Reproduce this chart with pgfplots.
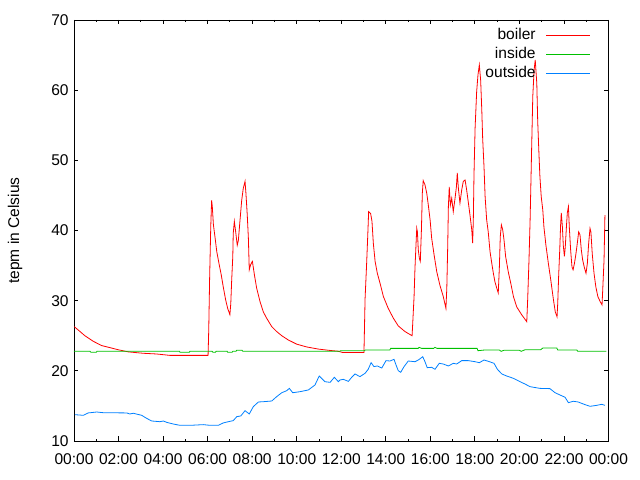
\documentclass[border=0pt]{standalone}
\usepackage{fontspec}
\setmainfont{Liberation Sans}
\usepackage{pgfplots}
\pgfplotsset{compat=1.18}
\usetikzlibrary{calc}
\definecolor{gpRed}{RGB}{255,0,0}
\definecolor{gpGreen}{RGB}{0,192,0}
\definecolor{gpBlue}{RGB}{0,128,255}

\begin{document}
\begin{tikzpicture}
\fontsize{15.6}{18}\selectfont
\begin{axis}[
  name=ax,
  at={(0,0)},anchor=south west,
  scale only axis,
  width=534.5bp,height=421bp,
  xmin=0,xmax=24,ymin=10,ymax=70,
  xtick={0,2,...,24},
  xticklabels={00:00,02:00,04:00,06:00,08:00,10:00,12:00,14:00,16:00,18:00,20:00,22:00,00:00},
  minor x tick num=1,
  ytick={10,20,...,70},
  major tick length=4.5bp,
  minor tick length=2.3bp,
  tick align=inside,
  axis line style={line width=0.8bp},
  every tick/.style={black,line width=0.8bp},
  /pgf/number format/assume math mode=true,
  ticklabel style={font=\fontsize{15.6}{18}\selectfont},
  xticklabel style={yshift=-7bp},
  ylabel={tepm in Celsius},
  ylabel style={at={(axis description cs:-0.1104,0.5)},anchor=center,font=\fontsize{15.6}{18}\selectfont},
  legend plot pos=right,
  legend cell align=right,
  legend image code/.code={\draw[#1] (0bp,0bp) -- (44bp,0bp);},
  legend style={draw=none,fill=none,at={(axis description cs:0.973,0.99)},anchor=north east,
    font=\fontsize{15.6}{18}\selectfont,row sep=0pt,column sep=9bp,
    nodes={inner sep=1.5bp,text height=12bp,text depth=4bp}},
  every axis plot/.append style={line width=0.8bp},
]
\addplot[gpRed] coordinates {
(0.01,26.3) (0.27,25.6) (0.49,25.0) (0.87,24.2) (1.24,23.6) (1.62,23.3) (1.99,23.0)
(2.44,22.7) (3.11,22.5) (3.71,22.4) (4.31,22.2) (6.02,22.2) (6.05,25.8) (6.09,33.2)
(6.14,40.5) (6.18,44.3) (6.21,43.4) (6.26,40.8) (6.33,39.1) (6.41,37.0) (6.51,35.3)
(6.61,33.7) (6.70,32.0) (6.81,30.1) (6.90,28.9) (7.00,28.0) (7.04,29.6) (7.08,32.9)
(7.13,36.3) (7.15,39.6) (7.20,41.3) (7.26,39.8) (7.33,37.9) (7.38,38.6) (7.45,41.3)
(7.53,44.3) (7.60,46.0) (7.68,47.0) (7.72,45.3) (7.78,42.2) (7.83,38.9) (7.87,34.4)
(7.93,35.1) (8.01,35.6) (8.10,33.7) (8.20,31.8) (8.35,29.9) (8.50,28.4) (8.65,27.5)
(8.88,26.3) (9.10,25.6) (9.33,25.0) (9.62,24.4) (10.00,23.8) (10.45,23.4) (10.97,23.1)
(11.50,22.9) (11.85,22.8) (12.08,22.6) (13.02,22.6) (13.07,30.3) (13.14,35.3)
(13.20,40.1) (13.23,42.7) (13.32,42.4) (13.38,41.3) (13.44,38.2) (13.52,35.6)
(13.62,33.9) (13.74,32.5) (13.89,30.6) (14.11,28.9) (14.34,27.5) (14.56,26.4)
(14.86,25.6) (15.18,25.0) (15.21,26.8) (15.27,30.6) (15.31,34.6) (15.36,38.2)
(15.39,40.3) (15.42,39.8) (15.46,37.2) (15.51,36.0) (15.55,35.6) (15.60,40.1)
(15.64,45.3) (15.68,47.1) (15.76,46.5) (15.84,45.3) (15.91,43.6) (15.99,41.5)
(16.06,38.9) (16.17,36.5) (16.29,34.1) (16.43,32.2) (16.58,30.6) (16.70,28.9)
(16.74,31.8) (16.78,37.7) (16.81,43.4) (16.85,46.2) (16.90,43.6) (16.96,44.6)
(17.03,42.7) (17.11,44.6) (17.17,46.2) (17.21,48.2) (17.26,46.0) (17.33,43.9)
(17.41,45.8) (17.48,47.0) (17.56,47.2) (17.63,45.8) (17.71,43.9) (17.78,42.2)
(17.86,40.1) (17.90,38.2) (17.93,41.5) (17.96,47.9) (18.01,54.6) (18.08,59.8)
(18.14,62.2) (18.20,63.6) (18.26,61.4) (18.31,57.2) (18.35,53.1) (18.41,49.1)
(18.46,44.8) (18.53,41.5) (18.60,39.8) (18.68,37.0) (18.76,35.3) (18.83,33.9)
(18.90,32.7) (18.98,31.8) (19.05,31.1) (19.10,34.8) (19.14,39.1) (19.19,40.8)
(19.25,40.1) (19.31,38.6) (19.38,36.3) (19.50,34.1) (19.61,32.5) (19.73,30.6)
(19.88,29.1) (20.10,28.0) (20.33,27.0) (20.37,30.1) (20.43,35.8) (20.48,41.5)
(20.52,47.4) (20.55,51.9) (20.60,59.1) (20.66,62.9) (20.71,64.3) (20.78,61.0)
(20.82,55.7) (20.87,51.5) (20.92,47.7) (20.98,44.8) (21.05,42.9) (21.10,40.5)
(21.19,37.9) (21.30,35.3) (21.41,32.9) (21.52,30.3) (21.61,28.4) (21.69,27.7)
(21.72,29.6) (21.76,33.4) (21.81,37.2) (21.85,40.8) (21.88,42.5) (21.93,40.5)
(21.97,37.9) (22.02,36.3) (22.06,37.7) (22.11,40.5) (22.15,42.5) (22.20,43.4)
(22.24,40.5) (22.30,37.2) (22.36,34.8) (22.41,34.4) (22.47,35.3) (22.53,36.5)
(22.60,38.2) (22.66,39.8) (22.72,39.4) (22.78,37.2) (22.84,35.8) (22.91,34.8)
(22.99,33.9) (23.05,35.3) (23.11,38.2) (23.17,40.3) (23.21,39.8) (23.27,36.7)
(23.35,33.9) (23.43,32.0) (23.52,30.6) (23.62,29.9) (23.71,29.4) (23.74,31.5)
(23.80,35.8) (23.84,42.2)
};
\addlegendentry{boiler}
\addplot[gpGreen] coordinates {
(0.00,22.78) (0.72,22.78) (0.76,22.64) (1.00,22.64) (1.03,22.78) (4.74,22.78)
(4.76,22.64) (5.18,22.64) (5.20,22.78) (6.20,22.78) (6.24,22.64) (6.35,22.64)
(6.38,22.78) (6.88,22.78) (6.90,22.64) (7.10,22.64) (7.13,22.78) (7.28,22.78)
(7.30,22.92) (7.55,22.92) (7.58,22.78) (11.94,22.78) (11.96,22.87) (13.05,22.87)
(13.07,22.97) (14.18,22.97) (14.22,23.2) (15.45,23.2) (15.50,23.35) (15.60,23.2)
(16.15,23.2) (16.20,23.35) (16.30,23.2) (18.10,23.2) (18.14,22.87) (18.45,22.97)
(19.10,22.97) (19.18,22.78) (19.30,22.92) (20.00,22.92) (20.08,22.78) (20.25,23.0)
(20.95,23.0) (21.05,23.25) (21.68,23.25) (21.72,22.97) (22.58,22.97) (22.62,22.78)
(23.90,22.78)
};
\addlegendentry{inside}
\addplot[gpBlue] coordinates {
(0.04,13.75) (0.42,13.66) (0.64,14.0) (1.02,14.13) (1.32,14.03) (2.37,14.0)
(2.51,13.85) (2.66,13.95) (3.04,13.66) (3.26,13.23) (3.49,12.85) (3.86,12.75)
(4.01,12.85) (4.16,12.66) (4.46,12.42) (4.76,12.23) (5.21,12.23) (5.81,12.33)
(6.11,12.23) (6.48,12.23) (6.70,12.57) (6.93,12.75) (7.15,12.9) (7.31,13.47)
(7.49,13.57) (7.68,14.32) (7.87,13.85) (8.05,14.89) (8.28,15.56) (8.50,15.6)
(8.88,15.7) (9.10,16.32) (9.33,16.88) (9.55,17.17) (9.67,17.5) (9.82,16.88)
(10.15,17.03) (10.52,17.27) (10.82,17.98) (11.01,19.26) (11.27,18.45) (11.50,18.36)
(11.69,19.08) (11.87,18.45) (11.94,18.69) (12.09,18.79) (12.32,18.5) (12.47,19.08)
(12.62,19.55) (12.84,19.17) (13.07,19.65) (13.21,20.22) (13.34,21.16) (13.47,20.6)
(13.62,20.69) (13.82,20.4) (14.01,21.45) (14.19,21.4) (14.37,21.64) (14.46,20.83)
(14.56,20.02) (14.67,19.79) (14.82,20.6) (15.01,21.4) (15.31,21.3) (15.46,21.54)
(15.66,22.01) (15.76,21.3) (15.86,20.45) (16.06,20.5) (16.21,20.22) (16.40,21.07)
(16.58,20.97) (16.81,20.69) (17.03,21.07) (17.18,20.97) (17.41,21.45) (17.71,21.45)
(18.01,21.3) (18.20,21.16) (18.41,21.54) (18.60,21.36) (18.86,21.07) (19.01,20.22)
(19.21,19.55) (19.43,19.26) (19.73,18.93) (20.03,18.45) (20.25,18.12) (20.48,17.74)
(20.92,17.5) (21.37,17.46) (21.60,16.88) (21.82,16.56) (22.05,16.23) (22.20,15.46)
(22.42,15.66) (22.64,15.56) (22.87,15.27) (23.17,14.94) (23.47,15.08) (23.70,15.23)
(23.84,15.08)
};
\addlegendentry{outside}
\end{axis}
\pgfresetboundingbox
\path[use as bounding box] ($(ax.south west)+(-74bp,-39bp)$) rectangle ($(ax.north east)+(31.5bp,20bp)$);
\end{tikzpicture}
\end{document}
